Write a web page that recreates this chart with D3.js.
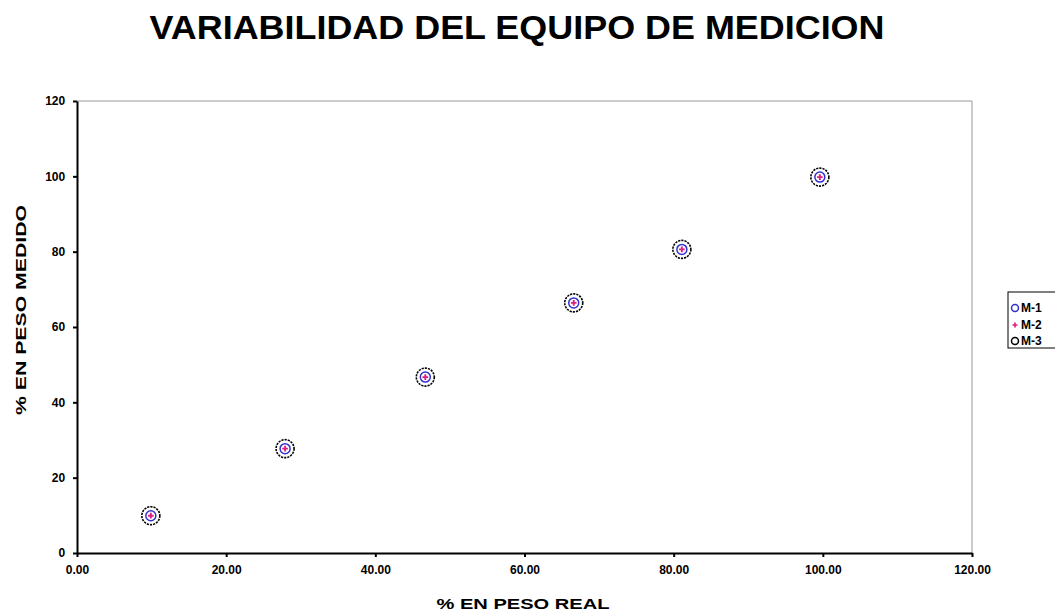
<!DOCTYPE html>
<html><head><meta charset="utf-8">
<script src="https://cdn.jsdelivr.net/npm/d3@7"></script>
<style>body{margin:0;background:#fff}svg{display:block}</style>
</head><body>
<script>
const categories = ["M-1","M-2","M-3"];
const xValues = [9.9, 27.9, 46.7, 66.6, 81.1, 99.6];
const m1 = [9.9, 27.7, 46.7, 66.4, 80.6, 99.8];
const m2 = [9.9, 27.7, 46.7, 66.4, 80.6, 99.8];
const m3 = [9.9, 27.7, 46.7, 66.4, 80.6, 99.8];
const xTicks = [0,20,40,60,80,100,120];
const yTicks = [0,20,40,60,80,100,120];

const W=1055,H=615;
const svg=d3.select("body").append("svg").attr("width",W).attr("height",H);
const L=77,R=972,T=101,B=553;
const x=d3.scaleLinear().domain([0,120]).range([L,R]);
const y=d3.scaleLinear().domain([0,120]).range([B,T]);
const font="Arial, 'Liberation Sans', sans-serif";

svg.append("text").attr("x",517).attr("y",39).attr("text-anchor","middle")
  .style("font-family",font).style("font-weight","bold").style("font-size","33px")
  .attr("textLength",735).attr("lengthAdjust","spacingAndGlyphs")
  .text("VARIABILIDAD DEL EQUIPO DE MEDICION");

svg.append("line").attr("x1",L).attr("x2",R).attr("y1",T).attr("y2",T).attr("stroke","#999");
svg.append("line").attr("x1",R).attr("x2",R).attr("y1",T).attr("y2",B).attr("stroke","#999");

const xa=svg.append("g").attr("transform",`translate(0,${B})`)
  .call(d3.axisBottom(x).tickValues(xTicks).tickFormat(d3.format(".2f")).tickSize(4).tickSizeOuter(0));
const ya=svg.append("g").attr("transform",`translate(${L},0)`)
  .call(d3.axisLeft(y).tickValues(yTicks).tickFormat(d3.format("d")).tickSize(4).tickSizeOuter(0));
[xa,ya].forEach(a=>{
  a.selectAll("path,line").attr("stroke","#000").attr("stroke-width",2);
  a.selectAll("text").style("font-family",font).style("font-weight","bold").style("font-size","12px").attr("fill","#000");
});
xa.selectAll("text").attr("dy","1.2em");
ya.selectAll("text").attr("dx","-0.4em");

svg.append("text").attr("x",523).attr("y",609).attr("text-anchor","middle")
  .style("font-family",font).style("font-weight","bold").style("font-size","15px")
  .attr("textLength",173).attr("lengthAdjust","spacingAndGlyphs").text("% EN PESO REAL");
svg.append("text").attr("transform",`translate(26,310) rotate(-90)`).attr("text-anchor","middle")
  .style("font-family",font).style("font-weight","bold").style("font-size","15px")
  .attr("textLength",210).attr("lengthAdjust","spacingAndGlyphs").text("% EN PESO MEDIDO");

const g=svg.append("g");
g.selectAll(".m3").data(xValues).join("circle").attr("cx",d=>x(d)).attr("cy",(d,i)=>y(m3[i]))
  .attr("r",9).attr("fill","none").attr("stroke","#000").attr("stroke-width",1.6).attr("stroke-dasharray","2.2,1");
g.selectAll(".m1").data(xValues).join("circle").attr("cx",d=>x(d)).attr("cy",(d,i)=>y(m1[i]))
  .attr("r",5).attr("fill","none").attr("stroke","#3333cc").attr("stroke-width",1.5);
g.selectAll(".m2").data(xValues).join("path")
  .attr("d",d3.symbol(d3.symbolCross,18)).attr("transform",(d,i)=>`translate(${x(d)},${y(m2[i])})`)
  .attr("fill","#e0207f");

const lg=svg.append("g");
lg.append("rect").attr("x",1008).attr("y",292).attr("width",60).attr("height",56).attr("fill","#fff").attr("stroke","#000");
const ly=[308,325,341];
categories.forEach((c,i)=>{
  const cx=1015;
  if(i===0) lg.append("circle").attr("cx",cx).attr("cy",ly[i]).attr("r",3.5).attr("fill","none").attr("stroke","#3333cc").attr("stroke-width",1.5);
  if(i===1) lg.append("path").attr("d",d3.symbol(d3.symbolCross,14)).attr("transform",`translate(${cx},${ly[i]})`).attr("fill","#e0207f");
  if(i===2) lg.append("circle").attr("cx",cx).attr("cy",ly[i]).attr("r",3.5).attr("fill","none").attr("stroke","#000").attr("stroke-width",1.5);
  lg.append("text").attr("x",1021).attr("y",ly[i]+4).style("font-family",font).style("font-weight","bold").style("font-size","12px").text(c);
});
</script>
</body></html>
